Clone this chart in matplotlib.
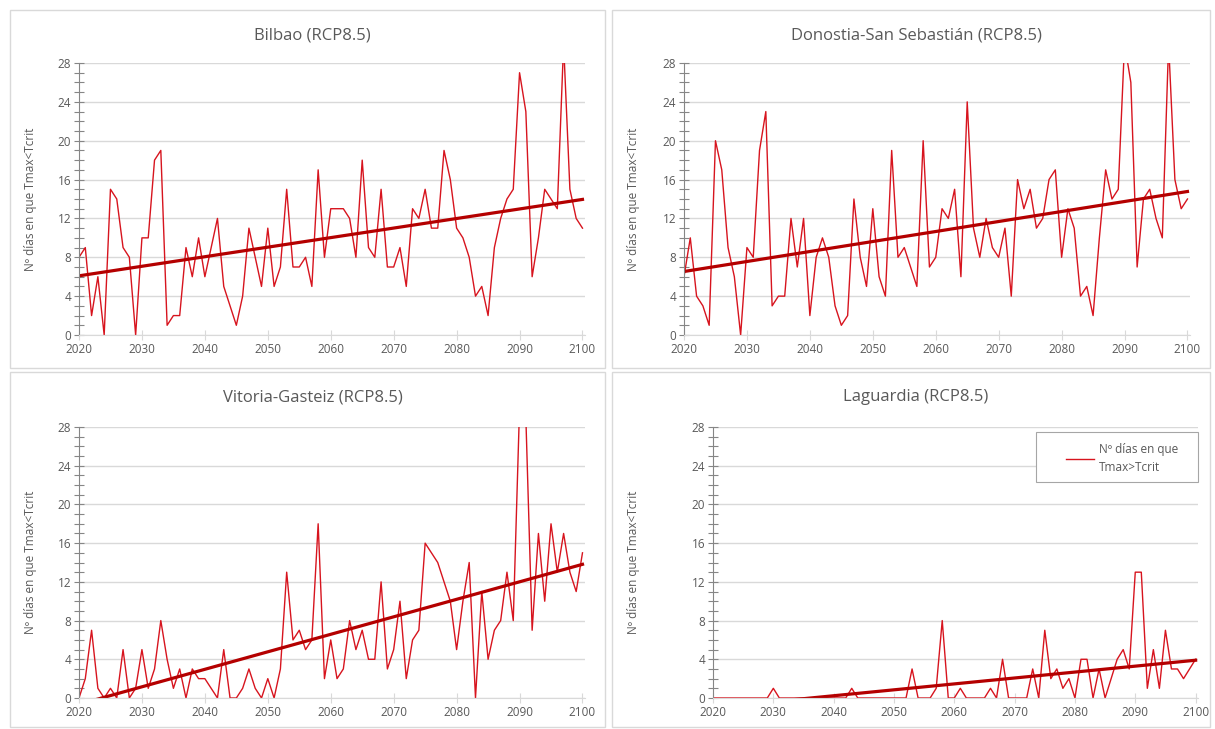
import numpy as np
import matplotlib.pyplot as plt
from matplotlib.patches import Rectangle
from matplotlib.ticker import MultipleLocator

plt.rcParams['font.family'] = ['Open Sans', 'DejaVu Sans']

years = np.arange(2020, 2101)

# Nº días por año (RCP8.5)
bilbao = [8, 9, 2, 6, 0, 15, 14, 9, 8, 0,
          10, 10, 18, 19, 1, 2, 2, 9, 6, 10,
          6, 9, 12, 5, 3, 1, 4, 11, 8, 5,
          11, 5, 7, 15, 7, 7, 8, 5, 17, 8,
          13, 13, 13, 12, 8, 18, 9, 8, 15, 7,
          7, 9, 5, 13, 12, 15, 11, 11, 19, 16,
          11, 10, 8, 4, 5, 2, 9, 12, 14, 15,
          27, 23, 6, 10, 15, 14, 13, 30, 15, 12, 11]
donostia = [6, 10, 4, 3, 1, 20, 17, 9, 6, 0,
            9, 8, 19, 23, 3, 4, 4, 12, 7, 12,
            2, 8, 10, 8, 3, 1, 2, 14, 8, 5,
            13, 6, 4, 19, 8, 9, 7, 5, 20, 7,
            8, 13, 12, 15, 6, 24, 11, 8, 12, 9,
            8, 11, 4, 16, 13, 15, 11, 12, 16, 17,
            8, 13, 11, 4, 5, 2, 10, 17, 14, 15,
            30, 26, 7, 14, 15, 12, 10, 30, 16, 13, 14]
vitoria = [0, 2, 7, 1, 0, 1, 0, 5, 0, 1,
           5, 1, 3, 8, 4, 1, 3, 0, 3, 2,
           2, 1, 0, 5, 0, 0, 1, 3, 1, 0,
           2, 0, 3, 13, 6, 7, 5, 6, 18, 2,
           6, 2, 3, 8, 5, 7, 4, 4, 12, 3,
           5, 10, 2, 6, 7, 16, 15, 14, 12, 10,
           5, 10, 14, 0, 11, 4, 7, 8, 13, 8,
           30, 29, 7, 17, 10, 18, 13, 17, 13, 11, 15]
laguardia = [0, 0, 0, 0, 0, 0, 0, 0, 0, 0,
             1, 0, 0, 0, 0, 0, 0, 0, 0, 0,
             0, 0, 0, 1, 0, 0, 0, 0, 0, 0,
             0, 0, 0, 3, 0, 0, 0, 1, 8, 0,
             0, 1, 0, 0, 0, 0, 1, 0, 4, 0,
             0, 0, 0, 3, 0, 7, 2, 3, 1, 2,
             0, 4, 4, 0, 3, 0, 2, 4, 5, 3,
             13, 13, 1, 5, 1, 7, 3, 3, 2, 3, 4]

titles = ['Bilbao (RCP8.5)', 'Donostia-San Sebastián (RCP8.5)',
          'Vitoria-Gasteiz (RCP8.5)', 'Laguardia (RCP8.5)']
series = [bilbao, donostia, vitoria, laguardia]
ylabel = 'Nº días en que Tmax<Tcrit'
legend_label = 'Nº días en que\nTmax>Tcrit'

W, H = 1215, 729
fig = plt.figure(figsize=(W / 100, H / 100), dpi=100)

# paneles: (borde del panel), (ejes) en píxeles
panels = [((10, 10, 605, 368), (79, 63, 585, 335)),
          ((612, 10, 1210, 368), (684, 63, 1190, 335)),
          ((10, 372, 605, 727), (79, 427, 585, 698)),
          ((612, 372, 1210, 727), (713, 427, 1198, 698))]

grey_txt = '#595959'
for k, ((bx0, by0, bx1, by1), (ax0, ay0, ax1, ay1)) in enumerate(panels):
    fig.patches.append(Rectangle((bx0 / W, 1 - by1 / H), (bx1 - bx0) / W, (by1 - by0) / H,
                                 transform=fig.transFigure, fill=False,
                                 edgecolor='#D9D9D9', linewidth=1))
    ax = fig.add_axes([ax0 / W, 1 - ay1 / H, (ax1 - ax0) / W, (ay1 - ay0) / H])
    y = np.array(series[k], dtype=float)
    ax.plot(years, y, color='#D7141E', linewidth=1.0, label=legend_label)
    a, b = np.polyfit(years, y, 1)
    ax.plot(years, a * years + b, color='#B40000', linewidth=2.3)
    ax.set_xlim(2020, 2100.4)
    ax.set_ylim(0, 28)
    ax.yaxis.set_major_locator(MultipleLocator(4))
    ax.yaxis.set_minor_locator(MultipleLocator(1))
    ax.set_xticks(np.arange(2020, 2101, 10))
    ax.grid(axis='y', color='#D9D9D9', linewidth=1)
    ax.set_axisbelow(True)
    for s in ['top', 'right']:
        ax.spines[s].set_visible(False)
    ax.spines['left'].set_color('#868686')
    ax.spines['bottom'].set_color('#D9D9D9')
    ax.tick_params(axis='y', which='both', direction='inout', length=7, width=0.8,
                   color='#868686', labelsize=8.5, labelcolor=grey_txt, pad=2)
    ax.tick_params(axis='x', direction='inout', length=7, width=0.8,
                   color='#D9D9D9', labelsize=8.5, labelcolor=grey_txt, pad=2)
    # etiqueta del eje Y a distancia fija del borde del panel
    fig.text((bx0 + 21) / W, 1 - ((ay0 + ay1) / 2) / H, ylabel, rotation=90,
             ha='center', va='center', fontsize=8.5, color=grey_txt)
    fig.text(((bx0 + bx1) / 2 + 5) / W, 1 - (by0 + 25) / H, titles[k],
             ha='center', va='center', fontsize=12, color=grey_txt)
    if k == 3:
        # caja de la leyenda
        ax.add_patch(Rectangle((0.666, 0.797), 0.334, 0.185, transform=ax.transAxes,
                               facecolor='white', edgecolor='#A6A6A6', linewidth=0.8,
                               zorder=4, clip_on=False))
        leg = ax.legend(loc='upper left', bbox_to_anchor=(0.708, 0.975), fontsize=8.5,
                        frameon=False, handlelength=2.4, handletextpad=0.4,
                        borderpad=0.3, labelcolor=grey_txt)
        leg.set_zorder(5)
        leg.get_texts()[0].set_linespacing(1.45)

fig.savefig('out.png', dpi=100)
